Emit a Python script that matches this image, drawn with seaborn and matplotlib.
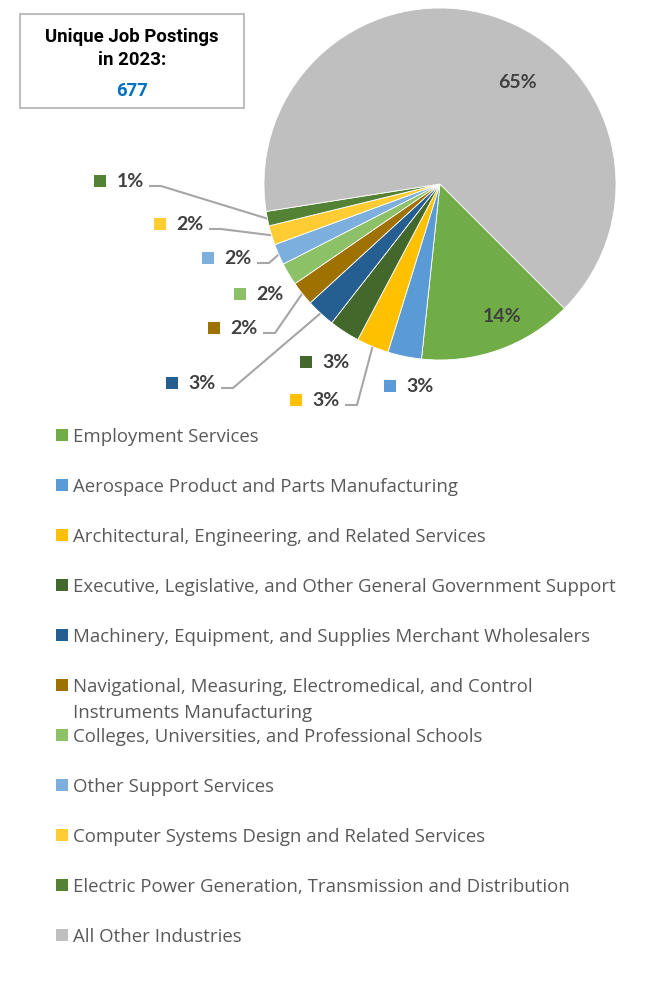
import numpy as np
import pandas as pd
import seaborn as sns
import matplotlib.pyplot as plt
from matplotlib.patches import Rectangle

# data
industries = ['Employment Services',
              'Aerospace Product and Parts Manufacturing',
              'Architectural, Engineering, and Related Services',
              'Executive, Legislative, and Other General Government Support',
              'Machinery, Equipment, and Supplies Merchant Wholesalers',
              'Navigational, Measuring, Electromedical, and Control\nInstruments Manufacturing',
              'Colleges, Universities, and Professional Schools',
              'Other Support Services',
              'Computer Systems Design and Related Services',
              'Electric Power Generation, Transmission and Distribution',
              'All Other Industries']
postings = [96, 21, 20, 19, 18, 15, 14, 13, 12, 9, 440]
total_postings = 677
colors = ['#70AD47', '#5B9BD5', '#FFC000', '#43682B', '#255E91', '#9E7100',
          '#8CC168', '#7CAFDD', '#FFCD33', '#548235', '#BFBFBF']

df = pd.DataFrame({'industry': industries, 'postings': postings})
df['pct'] = (100 * df['postings'] / df['postings'].sum()).round().astype(int)

# label layout (pixel positions, y from top)
label_pos = [(502, 316), (420, 386), (326, 400), (336, 362), (202, 383), (244, 328),
             (270, 294), (238, 258), (190, 224), (130, 181), (517, 82)]
has_key = [False, True, True, True, True, True, True, True, True, True, False]
has_leader = [False, False, True, False, True, True, False, True, True, True, False]

W, H = 660, 982
def Y(y):
    return H - y

sns.set_theme(style="white")
plt.rcParams['font.family'] = ['Lato', 'DejaVu Sans']
pal = sns.color_palette(colors)

fig = plt.figure(figsize=(6.6, 9.82), dpi=100)
ax = fig.add_axes([0, 0, 1, 1])

cx, cy, R = 440, Y(184), 176
wedges, _ = ax.pie(df['postings'], colors=pal, startangle=-45, counterclock=False,
                   center=(cx, cy), radius=R,
                   wedgeprops=dict(edgecolor='white', linewidth=0.6))
ax.set_xlim(0, W)
ax.set_ylim(0, H)
ax.set_aspect('equal')
ax.axis('off')

lab_color = '#404040'
for i, w in enumerate(wedges):
    tx, ty = label_pos[i]
    ax.text(tx, Y(ty), f"{df['pct'][i]}%", ha='center', va='center',
            fontsize=14, fontweight='bold', color=lab_color)
    if has_key[i]:
        ax.add_patch(Rectangle((tx - 36, Y(ty) - 6), 12, 12, color=pal[i], lw=0))
    if has_leader[i]:
        mid = np.deg2rad((w.theta1 + w.theta2) / 2)
        ex, ey = cx + R * np.cos(mid), cy + R * np.sin(mid)
        x0 = tx + 19
        ax.plot([x0, x0 + 12, ex], [Y(ty + 5), Y(ty + 5), ey],
                color='#A6A6A6', lw=1.5, solid_capstyle='butt', zorder=0)

# legend
for i, name in enumerate(industries):
    ly = 435 + 50 * i
    ax.add_patch(Rectangle((56, Y(ly) - 6), 12, 12, color=pal[i], lw=0))
    for k, line in enumerate(name.split('\n')):
        ax.text(73, Y(ly + 2 + 26 * k), line, ha='left', va='center',
                fontsize=13.4, color='#595959', family=['Open Sans', 'DejaVu Sans'])

# text box
ax.add_patch(Rectangle((20, Y(108)), 224, 94, facecolor='white',
                       edgecolor='#BFBFBF', lw=1.5))
box_font = ['Roboto', 'DejaVu Sans']
ax.text(132, Y(37), 'Unique Job Postings', ha='center', va='center',
        fontsize=13.4, fontweight='bold', color='black', family=box_font)
ax.text(132, Y(60), 'in 2023:', ha='center', va='center',
        fontsize=13.4, fontweight='bold', color='black', family=box_font)
ax.text(132, Y(91), f'{total_postings}', ha='center', va='center',
        fontsize=13.4, fontweight='bold', color='#0070C0', family=box_font)

plt.savefig('out.png', dpi=100, facecolor='white')
